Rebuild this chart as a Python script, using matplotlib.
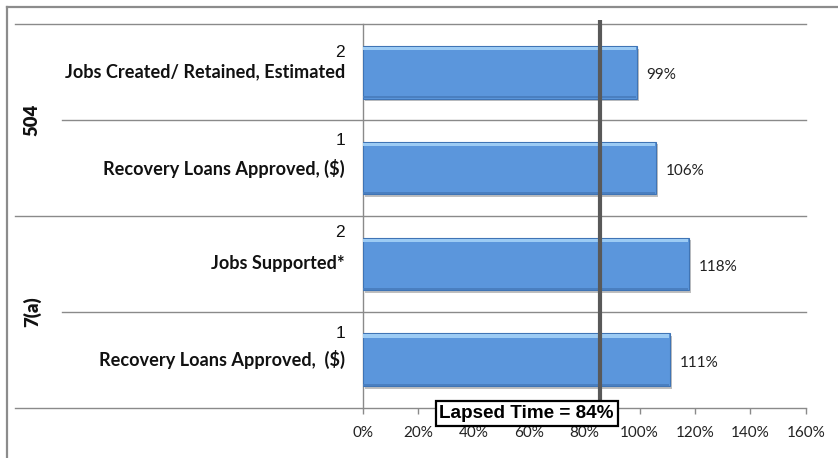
import matplotlib
matplotlib.use("Agg")
import matplotlib.pyplot as plt
from matplotlib.lines import Line2D
from matplotlib import patheffects as pe

# ---- data ----
groups = ["7(a)", "504"]
categories = ["Recovery Loans Approved,  ($)", "Jobs Supported*",
              "Recovery Loans Approved, ($)", "Jobs Created/ Retained, Estimated"]
footnotes = ["1", "2", "1", "2"]
values = [1.11, 1.18, 1.06, 0.99]
value_labels = ["111%", "118%", "106%", "99%"]
lapsed_time = 0.857
lapsed_label = "Lapsed Time = 84%"
xticks = [0, 0.2, 0.4, 0.6, 0.8, 1.0, 1.2, 1.4, 1.6]
xticklabels = ["0%", "20%", "40%", "60%", "80%", "100%", "120%", "140%", "160%"]

W, H = 838, 458
fig = plt.figure(figsize=(W / 100, H / 100), dpi=100)
fig.patch.set_facecolor("white")

# axes placement (pixels)
x0, x1, ytop, ybot = 362.7, 805.7, 24.3, 407.7
ax = fig.add_axes([x0 / W, 1 - ybot / H, (x1 - x0) / W, (ybot - ytop) / H])
ax.set_xlim(0, 1.6)
ax.set_ylim(-0.5, 3.5)

grid_c = "#8a8a8a"
bar_c = "#5B96DC"
ypos = list(range(len(categories)))
bh = 0.55

shadow = [pe.SimplePatchShadow(offset=(1.5, -2), shadow_rgbFace="#000000", alpha=0.25), pe.Normal()]
ax.barh(ypos, values, height=bh, color=bar_c, edgecolor="#3F74B5", linewidth=0.8,
        zorder=3, path_effects=shadow)
# highlight strip at top of each bar, darker strip at bottom
hs = 0.035
ax.barh([y + bh / 2 - hs / 2 - 0.01 for y in ypos], [v - 0.004 for v in values], height=hs,
        color="#9CCBF4", edgecolor="none", zorder=4)
ax.barh([y - bh / 2 + 0.012 for y in ypos], [v - 0.004 for v in values], height=0.02,
        color="#4A7FC0", edgecolor="none", zorder=4)

# value labels
for y, v, lab in zip(ypos, values, value_labels):
    ax.annotate(lab, (v, y), xytext=(7, -2), textcoords="offset points",
                va="center", ha="left", fontsize=11, family="Lato", color="#222222")

# spines / ticks
for s in ["top", "right", "bottom"]:
    ax.spines[s].set_visible(False)
ax.spines["left"].set_color(grid_c)
ax.spines["left"].set_linewidth(1.0)
ax.set_yticks([])
ax.set_xticks(xticks)
ax.set_xticklabels(xticklabels, family="Lato", fontsize=11, color="#222222")
ax.tick_params(axis="x", length=4, color=grid_c, width=1.0, pad=9)

# horizontal gridlines (category boundaries), extending left into label area
yt = ax.get_yaxis_transform()
for yb in [-0.5, 1.5, 3.5]:
    ax.plot([-(x0 - 15) / (x1 - x0), 1], [yb, yb], color=grid_c, lw=1.0,
            transform=yt, clip_on=False, zorder=1)
for yb in [0.5, 2.5]:
    ax.plot([-(x0 - 62) / (x1 - x0), 1], [yb, yb], color=grid_c, lw=1.0,
            transform=yt, clip_on=False, zorder=1)

# category labels with footnote numbers
lab_x = -(x0 - 345) / (x1 - x0)
num_off = [0.27, 0.33, 0.29, 0.21]
for y, cat, fn, off in zip(ypos, categories, footnotes, num_off):
    ax.text(lab_x, y, cat, transform=yt, ha="right", va="center",
            fontsize=13.1, fontweight="bold", family="Lato", color="#111111")
    ax.text(lab_x, y + off, fn, transform=yt, ha="right", va="center",
            fontsize=12.5, family="Liberation Sans", color="#111111")

# group labels
grp_x = -(x0 - 32) / (x1 - x0)
for g, yc in zip(groups, [0.5, 2.5]):
    ax.text(grp_x, yc, g, transform=yt, rotation=90, ha="center", va="center",
            fontsize=13.3, fontweight="heavy", family="Lato", color="#111111")

# lapsed time line
ax.plot([lapsed_time, lapsed_time], [-0.5, 3.545], color="#595959", lw=3.0,
        zorder=6, clip_on=False, solid_capstyle="butt")
ax.text(0.370, -0.0157, lapsed_label, transform=ax.transAxes, ha="center", va="center",
        fontsize=13.6, fontweight="bold", family="Liberation Sans", color="black", zorder=8,
        bbox=dict(boxstyle="square,pad=0.2", fc="white", ec="black", lw=1.6))

# outer frame
fx = 7 / W
fy = 1 - 7 / H
fig.add_artist(Line2D([fx, fx], [0, fy], color="#8c8c8c", lw=1.6, transform=fig.transFigure))
fig.add_artist(Line2D([fx, 1], [fy, fy], color="#8c8c8c", lw=1.6, transform=fig.transFigure))

fig.savefig("out.png", dpi=100)
